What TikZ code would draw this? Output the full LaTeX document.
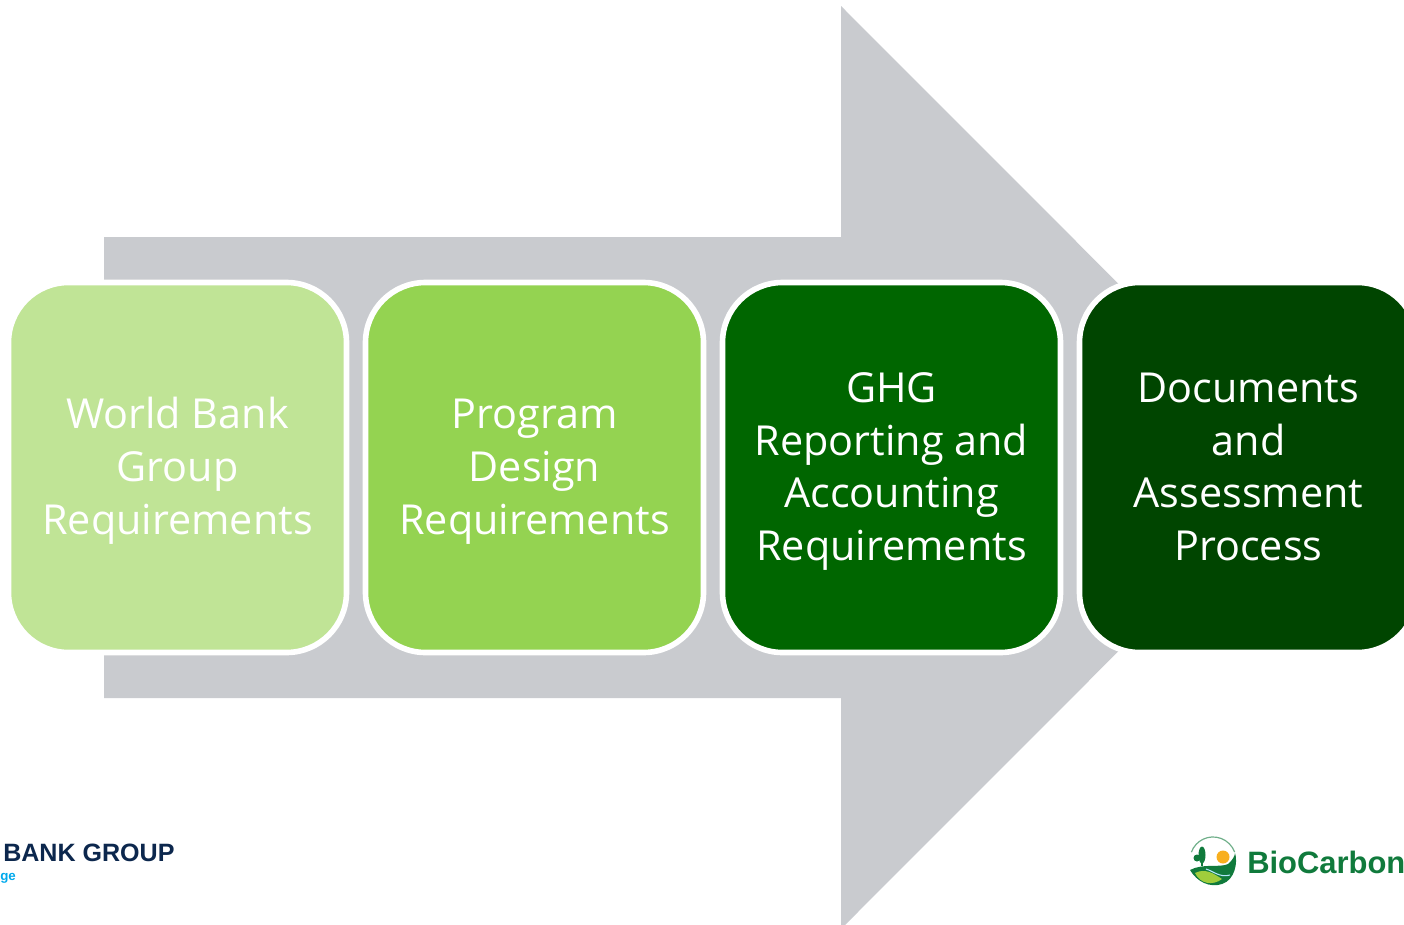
\documentclass[tikz,border=0pt]{standalone}
\usepackage{fontspec}
\setmainfont{Open Sans}
\newfontfamily\logofont{Liberation Sans}
\usepackage{xcolor}
\usetikzlibrary{positioning}
\definecolor{palegreen}{RGB}{192,228,150}
\definecolor{leafgreen}{RGB}{148,211,81}
\definecolor{forest}{RGB}{0,102,0}
\definecolor{darkforest}{RGB}{0,69,0}
\definecolor{arrowgrey}{RGB}{201,203,207}
\definecolor{banknavy}{RGB}{12,39,77}
\definecolor{bankblue}{RGB}{0,169,236}
\definecolor{biogreen}{RGB}{16,122,60}
\definecolor{biolime}{RGB}{160,205,60}
\definecolor{biosun}{RGB}{248,175,30}
\newcommand{\steptop}{\rule{0pt}{33pt}}

\begin{document}
\begin{tikzpicture}[
    x=0.75pt, y=-0.75pt,
    node distance=14.25pt,
    box/.style={rectangle, draw=white, line width=4.2pt, rounded corners=45pt, minimum width=253.5pt, minimum height=277.5pt, inner sep=0pt, outer sep=0pt, align=center, text=white, font=\fontsize{31}{39.5}\selectfont, execute at end node=\strut},
    logotext/.style={anchor=west, inner sep=0pt}
]
\useasboundingbox (0,0) rectangle (1404,925);
\clip (0,0) rectangle (1404,925);

% Big arrow behind the boxes
\fill[arrowgrey] (104,237) -- (841,237) -- (841,6) -- (1302,467.5) -- (841,929) -- (841,698) -- (104,698) -- cycle;

% Steps
\node[box, fill=palegreen] (bank) at (177.5,467.5) {\steptop World Bank\\Group\\Requirements};
\node[box, fill=leafgreen, right=of bank] (design) {\steptop Program\\Design\\Requirements};
\node[box, fill=forest, right=of design] (ghg) {\steptop GHG\\Reporting and\\Accounting\\Requirements};
\node[box, fill=darkforest, right=of ghg] (docs) {\steptop Documents\\and\\Assessment\\Process};

% Logos
\node[logotext, text=banknavy, font=\logofont\bfseries\fontsize{18.8}{22}\selectfont] (banklogo) at (3,853) {BANK GROUP};
\node[logotext, text=bankblue, font=\logofont\bfseries\fontsize{10}{12}\selectfont] (banktag) at (0,878) {ge};
\node[logotext, text=biogreen, font=\logofont\bfseries\fontsize{23.2}{28}\selectfont] (biologo) at (1247,862) {BioCarbon};

% BioCarbon emblem
\draw[biogreen!60, line width=0.9pt] (1191.4,852.1) arc[start angle=200, end angle=340, radius=23];
\fill[biogreen] (1190,870) .. controls (1203,863) and (1220,868) .. (1228,864) .. controls (1233,860) and (1235,855) .. (1235,853) .. controls (1238,862) and (1235,880) .. (1222,884) .. controls (1210,888) and (1197,882) .. (1190,870) -- cycle;
\fill[biolime] (1195,873) .. controls (1205,868) and (1213,873) .. (1222,879) .. controls (1213,886) and (1200,884) .. (1195,873) -- cycle;
\draw[white!70!cyan, line width=0.8pt] (1206,869) .. controls (1213,871) and (1220,878) .. (1230,875);
\fill[biosun] (1223,857) circle[radius=6.5];
\fill[biogreen] (1202,855) ellipse[x radius=3.5, y radius=8.5];
\fill[biogreen] (1197,858) circle[radius=3.5];
\fill[biogreen] (1201,860) rectangle (1203,866);

\end{tikzpicture}
\end{document}
